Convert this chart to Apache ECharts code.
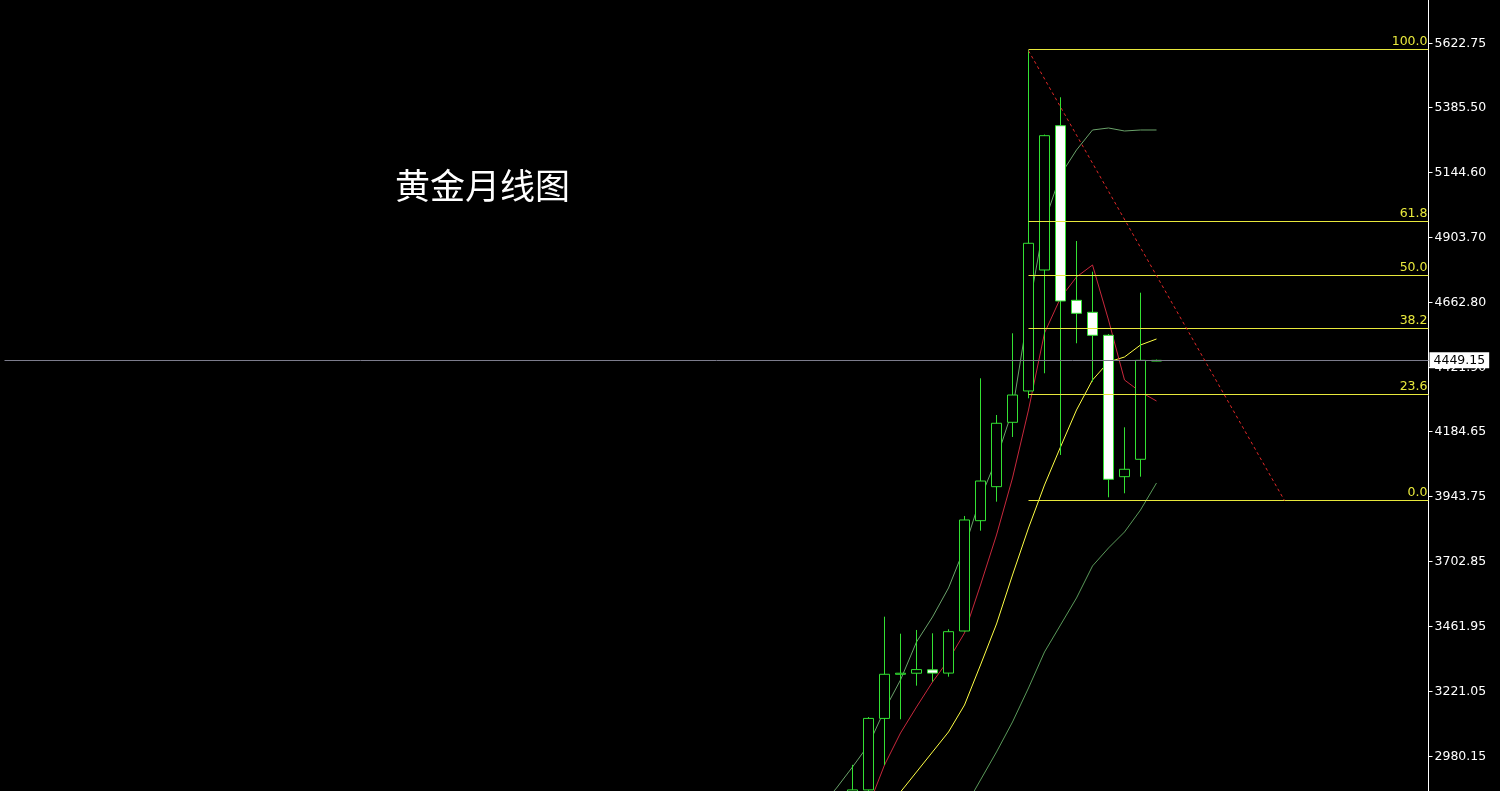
<!DOCTYPE html>
<html>
<head>
<meta charset="utf-8">
<script src="https://cdn.jsdelivr.net/npm/echarts@6/dist/echarts.min.js"></script>
<style>
html,body{margin:0;padding:0;background:#000;}
#chart{width:1500px;height:791px;}
</style>
</head>
<body>
<div id="chart"></div>
<script>
// ---- data ----
const titleText = '黄金月线图';
const totalSlots = 90;          // category slots on the (hidden) time axis
const firstCandleSlot = 53;
const months = ['2025.02','2025.03','2025.04','2025.05','2025.06','2025.07','2025.08','2025.09','2025.10','2025.11','2025.12',
                '2026.01','2026.02','2026.03','2026.04','2026.05','2026.06','2026.07','2026.08','2026.09'];
// [open, close, low, high]
const candles = [
  [2798, 2857, 2833, 2950],
  [2857, 3122, 2832, 3127],
  [3122, 3285.6, 2949.4, 3499.1],
  [3285.6, 3289.5, 3118.8, 3436],
  [3289.5, 3303, 3243.4, 3449.8],
  [3302, 3290, 3258.2, 3437.5],
  [3290, 3443.5, 3276.7, 3452.4],
  [3446, 3857.5, 3445, 3872.3],
  [3854.9, 4001.9, 3817.8, 4382.6],
  [3980.9, 4215.9, 3925.3, 4246.6],
  [4219.5, 4320.7, 4165.1, 4549.4],
  [4335.6, 4883, 4308.5, 5599.4],
  [4784, 5281.8, 4401.2, 5286],
  [5318.8, 4669.1, 4098.4, 5424.1],
  [4671.7, 4623.5, 4512.4, 4891.5],
  [4627.2, 4542, 4370, 4777.7],
  [4542, 4008.3, 3941.6, 4546.8],
  [4018, 4045.4, 3956.4, 4201],
  [4082.4, 4449.15, 4018, 4699.9],
  [4446.5, 4449.15, 4446, 4452]
];
const maFastStart = 51;
const maFast = [2793.7, 2864, 2942, 3023.6, 3153.3, 3264.5, 3405.3, 3498, 3605.5, 3753.7, 3939, 4083.6, 4265.2, 4632, 4961.9, 5136.1, 5228.8, 5302.9, 5310.3, 5299.2, 5302.9, 5302.9];
const maRedStart = 54;
const maRed = [2797.5, 2949.4, 3068, 3164.4, 3257, 3338.6, 3438.7, 3616.5, 3801.9, 4013.1, 4265.2, 4550.5, 4680.3, 4758.1, 4802.6, 4598.7, 4376.3, 4331.9, 4298.5];
const maYellowStart = 55;
const maYellow = [2775.3, 2849.4, 2923.5, 2997.7, 3071.8, 3171.8, 3320.1, 3472, 3653.6, 3827.8, 3987.2, 4128, 4265.2, 4376.3, 4443.1, 4461.6, 4506.1, 4528.3];
const maSlowStart = 60;
const maSlow = [2790, 2893.9, 2997.7, 3108.8, 3234.8, 3368.3, 3468.3, 3568.4, 3687, 3753.7, 3813, 3894.5, 3994.6];

const yTicks = [2980.15, 3221.05, 3461.95, 3702.85, 3943.75, 4184.65, 4421.90, 4662.80, 4903.70, 5144.60, 5385.50, 5622.75];
const yMin = 2853.0, yMax = 5784.7;
const lastPrice = 4449.15;

const fibStartSlot = 64, fibEndSlot = 89;
const fibLabels = ['0.0', '23.6', '38.2', '50.0', '61.8', '100.0'];
const fibPrices = [3929.69, 4322.56, 4567.17, 4763.61, 4963.75, 5601.24];

const trendStart = [64, 5596.7];
const trendEnd = [80, 3929.5];

// ---- build ----
const categories = [];
for (let i = 0; i < totalSlots; i++) {
  const m = i - firstCandleSlot;
  categories.push(m >= 0 && m < months.length ? months[m] : 's' + i);
}
const candleData = candles.map((c, i) => [firstCandleSlot + i, c[0], c[1], c[2], c[3]]);
const toLine = (start, arr) => arr.map((v, i) => [start + i, v]);

const FONT = 'DejaVu Sans';
const GREEN = '#33e033';
const FIB = '#e8e83c';

const fibLines = fibPrices.map((p, i) => [
  { coord: [fibStartSlot, p], lineStyle: { color: FIB, width: 1, type: 'solid' },
    label: { show: true, formatter: fibLabels[i], position: 'insideEndTop', color: FIB,
             fontFamily: FONT, fontSize: 12.5, distance: [1, 1] } },
  { coord: [fibEndSlot, p] }
]);

const chart = echarts.init(document.getElementById('chart'), null, { renderer: 'canvas' });
chart.setOption({
  backgroundColor: '#000',
  animation: false,
  title: {
    text: titleText, left: 395, top: 168, padding: 0,
    textStyle: { color: '#fff', fontSize: 35, fontWeight: 'normal', fontFamily: 'Noto Sans CJK SC' }
  },
  grid: { left: 4.5, right: 71.5, top: 0, bottom: 0, containLabel: false },
  xAxis: {
    type: 'category', data: categories, boundaryGap: false, show: false
  },
  yAxis: {
    type: 'value', position: 'right', min: yMin, max: yMax, scale: true,
    axisLine: { show: true, lineStyle: { color: '#ffffff', width: 1 } },
    axisTick: { show: true, length: 4, inside: false, customValues: yTicks, lineStyle: { color: '#ffffff' } },
    axisLabel: { show: true, customValues: yTicks, color: '#ffffff', fontFamily: FONT, fontSize: 12.5, margin: 6,
                 formatter: v => v.toFixed(2) },
    splitLine: { show: false }
  },
  series: [
    {
      type: 'line', data: toLine(maSlowStart, maSlow), showSymbol: false, silent: true,
      lineStyle: { color: '#5a9a5a', width: 1 }, z: 3
    },
    {
      type: 'line', data: toLine(maYellowStart, maYellow), showSymbol: false, silent: true,
      lineStyle: { color: '#ffff44', width: 1 }, z: 3
    },
    {
      type: 'line', data: toLine(maRedStart, maRed), showSymbol: false, silent: true,
      lineStyle: { color: '#c8283c', width: 1 }, z: 3
    },
    {
      type: 'line', data: toLine(maFastStart, maFast), showSymbol: false, silent: true,
      lineStyle: { color: '#6aa26a', width: 1 }, z: 3
    },
    {
      type: 'candlestick', data: candleData, encode: { x: 0, y: [1, 2, 3, 4] },
      barWidth: 10, silent: true, z: 4,
      itemStyle: {
        color: '#000000', color0: '#ffffff',
        borderColor: GREEN, borderColor0: GREEN, borderColorDoji: GREEN, borderWidth: 1
      },
      markLine: {
        silent: true, animation: false, symbol: ['none', 'none'],
        label: { show: false },
        data: [
          { yAxis: lastPrice, lineStyle: { color: '#7c7c8c', width: 1, type: 'solid' },
            label: { show: true, position: 'end', formatter: lastPrice.toFixed(2), distance: 1,
                     backgroundColor: '#ffffff', color: '#000000', padding: [2, 4, 1, 4],
                     fontFamily: FONT, fontSize: 12.5 } },
          ...fibLines,
          [
            { coord: trendStart, lineStyle: { color: '#e02828', width: 1, type: [3, 3] }, label: { show: false } },
            { coord: trendEnd }
          ]
        ]
      }
    }
  ]
});
</script>
</body>
</html>
